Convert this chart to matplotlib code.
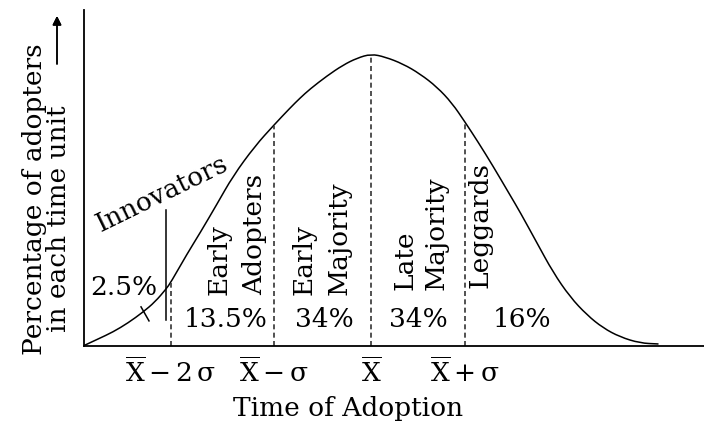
import numpy as np
import matplotlib
matplotlib.use("Agg")
import matplotlib.pyplot as plt
from matplotlib.path import Path
from matplotlib.patches import PathPatch

plt.rcParams['font.family'] = ['DejaVu Serif', 'DejaVu Sans']
plt.rcParams['mathtext.fontset'] = 'dejavuserif'

# ---- DATA ----
# adoption curve: x in sigma units from the mean,
# y as a fraction of the peak
curve_x = [-2.969, -2.814, -2.660, -2.505, -2.351, -2.227, -2.113, -2.062,
           -1.897, -1.763, -1.588, -1.423, -1.196, -1.000, -0.835, -0.732,
           -0.629, -0.454, -0.289, -0.144, 0.000, 0.144, 0.330, 0.505,
           0.680, 0.835, 0.969, 1.103, 1.258, 1.433, 1.536, 1.711,
           1.876, 2.052, 2.227, 2.392, 2.567, 2.773, 2.959]
curve_y = [0.000, 0.024, 0.048, 0.079, 0.116, 0.151, 0.195, 0.219,
           0.315, 0.387, 0.486, 0.582, 0.685, 0.757, 0.815, 0.849,
           0.880, 0.925, 0.962, 0.986, 1.000, 0.990, 0.966, 0.932,
           0.887, 0.832, 0.767, 0.699, 0.616, 0.517, 0.459, 0.353,
           0.253, 0.168, 0.106, 0.062, 0.031, 0.010, 0.007]

# category boundaries (X-2s, X-s, X, X+s)
cut_x = [-2.062, -1.0, 0.0, 0.969]
cut_labels = [r'$\overline{\mathrm{X}}-2\,\mathrm{\sigma}$',
              r'$\overline{\mathrm{X}}-\mathrm{\sigma}$',
              r'$\overline{\mathrm{X}}$',
              r'$\overline{\mathrm{X}}+\mathrm{\sigma}$']

group_lines = [['Early', 'Adopters'], ['Early', 'Majority'],
               ['Late', 'Majority'], ['Leggards']]
shares = ['2.5%', '13.5%', '34%', '34%', '16%']

# ---- FIGURE SETUP ----
fig = plt.figure(figsize=(7.04, 4.23), dpi=100)
ax = fig.add_axes([84 / 704, 77 / 423, 620 / 704, 336 / 423])
ax.set_xlim(-2.959, 3.433)
ax.set_ylim(0, 1.1507)

for side in ['top', 'right']:
    ax.spines[side].set_visible(False)
for side in ['left', 'bottom']:
    ax.spines[side].set_linewidth(1.3)
ax.set_yticks([])
ax.set_xticks(cut_x)
ax.set_xticklabels(cut_labels)
ax.tick_params(axis='x', length=0, pad=8, labelsize=19)

ax.set_xlabel('Time of Adoption', fontsize=19)
ax.xaxis.set_label_coords(0.426, -0.148)

# ---- CURVE (smooth quadratic path through the read points) ----
pts = np.column_stack([curve_x, curve_y])
mids = (pts[:-1] + pts[1:]) / 2
verts = [pts[0], mids[0]]
codes = [Path.MOVETO, Path.LINETO]
for i in range(1, len(pts) - 1):
    verts += [pts[i], mids[i]]
    codes += [Path.CURVE3, Path.CURVE3]
verts.append(pts[-1])
codes.append(Path.LINETO)
ax.add_patch(PathPatch(Path(verts, codes), fill=False, lw=1.1,
                       ec='black', capstyle='round'))

# dashed boundaries up to the curve
tops = np.interp(cut_x, curve_x, curve_y)
for x, top in zip(cut_x, tops):
    ax.plot([x, x], [0, top - 0.004], color='#333333', lw=1.2,
            linestyle=(0, (3, 2)))

# innovators marker line and the small tick on the curve
ax.plot([-2.113, -2.113], [0.089, 0.466], color='black', lw=1.1)
ax.plot([-2.371, -2.289], [0.134, 0.086], color='black', lw=1.1)

ax.text(-2.16, 0.52, 'Innovators', fontsize=19, rotation=26,
        rotation_mode='anchor', ha='center', va='center')

# group names, rotated (baseline x, bottom y)
name_pos = [[(-1.485, 0.175), (-1.124, 0.175)],
            [(-0.608, 0.175), (-0.247, 0.175)],
            [(0.423, 0.192), (0.753, 0.192)],
            [(1.206, 0.199)]]
for lines, pos in zip(group_lines, name_pos):
    for line, (x, y) in zip(lines, pos):
        ax.text(x, y, line, fontsize=19, rotation=90, rotation_mode='anchor',
                ha='left', va='baseline')

# shares
share_pos = [(-2.546, 0.175), (-1.495, 0.065), (-0.485, 0.065),
             (0.485, 0.065), (1.557, 0.065)]
for s, (x, y) in zip(shares, share_pos):
    ax.text(x, y, s, fontsize=19, ha='center', va='baseline')

# ---- Y LABEL (two lines plus arrow) ----
fig.text(42 / 704, (423 - 355) / 423, 'Percentage of adopters', fontsize=19,
         rotation=90, rotation_mode='anchor', ha='left', va='baseline')
fig.text(66 / 704, (423 - 332) / 423, 'in each time unit', fontsize=19,
         rotation=90, rotation_mode='anchor', ha='left', va='baseline')
fig.add_artist(plt.annotate('', xy=(57, 423 - 16), xytext=(57, 423 - 64),
                            xycoords='figure pixels',
                            textcoords='figure pixels',
                            arrowprops=dict(arrowstyle='-|>', lw=1.1,
                                            color='black',
                                            mutation_scale=13,
                                            shrinkA=0, shrinkB=0)))

fig.savefig('out.png', dpi=100)
